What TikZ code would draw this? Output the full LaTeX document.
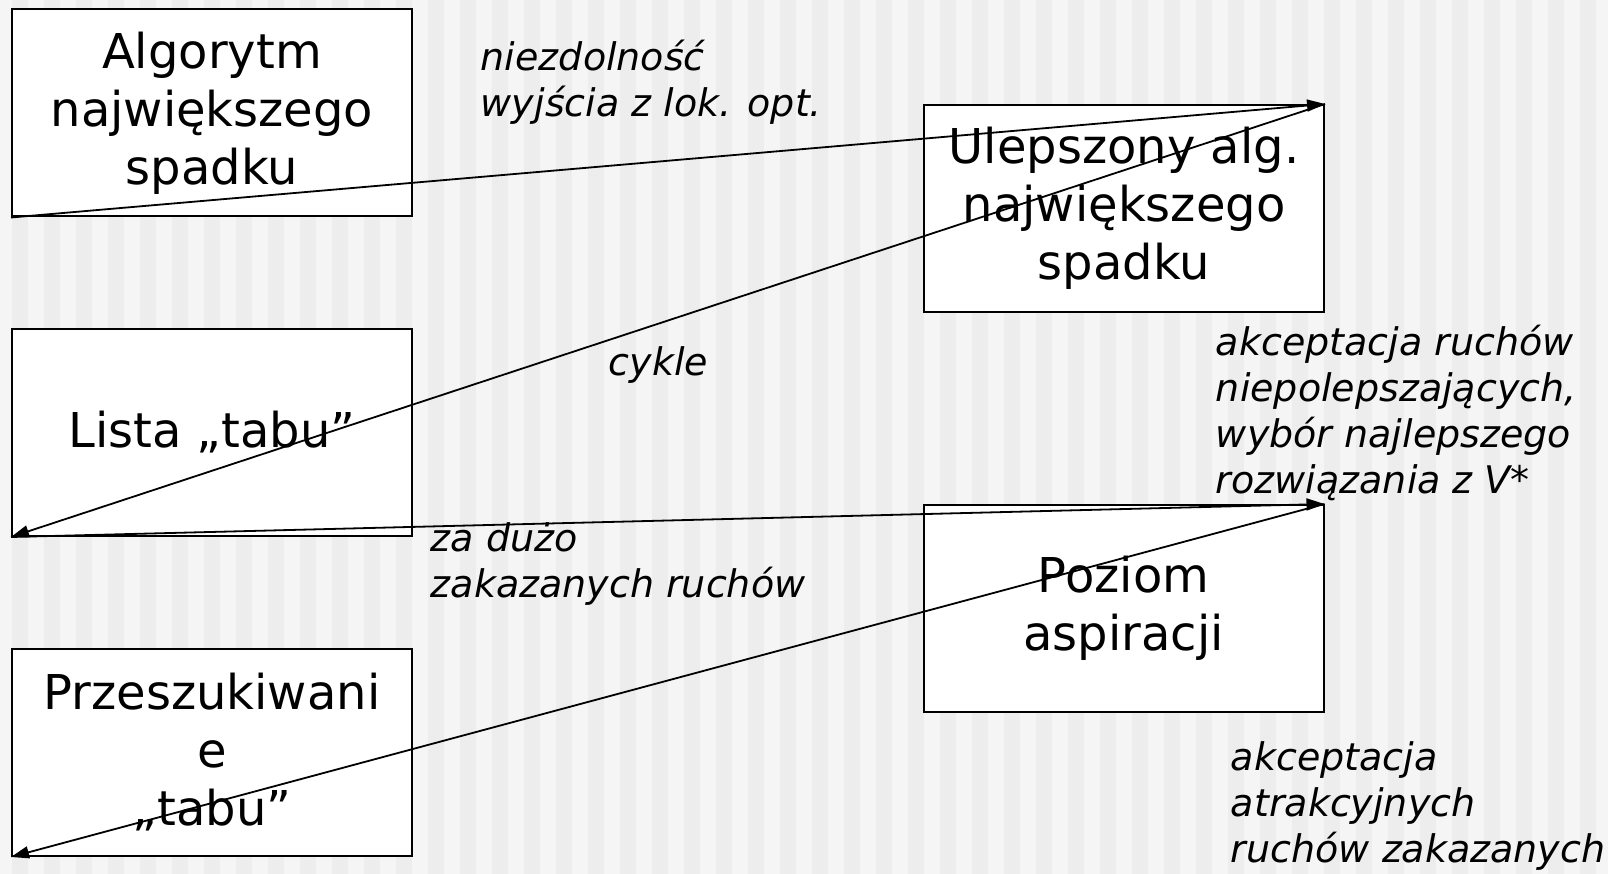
\documentclass[tikz,border=0pt]{standalone}
\usepackage{fontspec}
\setmainfont{DejaVu Sans}
\usetikzlibrary{arrows.meta}
\definecolor{stripelight}{HTML}{F5F5F5}
\definecolor{stripedark}{HTML}{EDEDED}
\tikzset{
  blok/.style={draw,fill=white,line width=2pt,minimum width=400pt,minimum height=207pt,
    inner sep=0pt,align=center,font=\fontsize{48}{58}\selectfont},
  opis/.style={anchor=base west,inner sep=0pt,align=left,font=\fontsize{38}{46}\selectfont\itshape},
}
\begin{document}
\begin{tikzpicture}[x=1pt,y=-1pt,line width=1.8pt,>={Triangle[length=18pt,width=12pt]}]
            % tlo w paski
            \fill[stripelight] (0,0) rectangle (1608,874);
            \foreach \i in {0,...,49}
                \fill[stripedark] ({12+32*\i},0) rectangle ({28+32*\i},874);
            \useasboundingbox (0,0) rectangle (1608,874);
            % bloki
            \node[blok] (alg) at (212,113) {Algorytm\\największego\\spadku};
            \node[blok] (ulep) at (1124,208.5) {Ulepszony alg.\\największego\\spadku};
            \node[blok] (lista) at (212,432.5) {Lista „tabu”};
            \node[blok] (poziom) at (1123.5,608.5) {Poziom\\aspiracji};
            \node[blok] (przesz) at (212,752.5) {Przeszukiwani\\e\\„tabu”};
            % strzalki
            \draw[->] (alg.south west) -- (ulep.north east);
            \draw[->] (ulep.north east) -- (lista.south west);
            \draw[->] (lista.south west) -- (poziom.north east);
            \draw[->] (poziom.north east) -- (przesz.south west);
            % opisy (base = ostatnia linia)
            \node[opis] (niezd) at (480,117) {niezdolność\\wyjścia z lok. opt.};
            \node[opis] (cykle) at (608,375) {cykle};
            \node[opis] (akcnp) at (1215,493) {akceptacja ruchów\\niepolepszających,\\wybór najlepszego\\rozwiązania z V*};
            \node[opis] (zaduzo) at (430,597) {za dużo\\zakazanych ruchów};
            \node[opis] (akcatr) at (1230,862) {akceptacja\\atrakcyjnych\\ruchów zakazanych};
\end{tikzpicture}
\end{document}
